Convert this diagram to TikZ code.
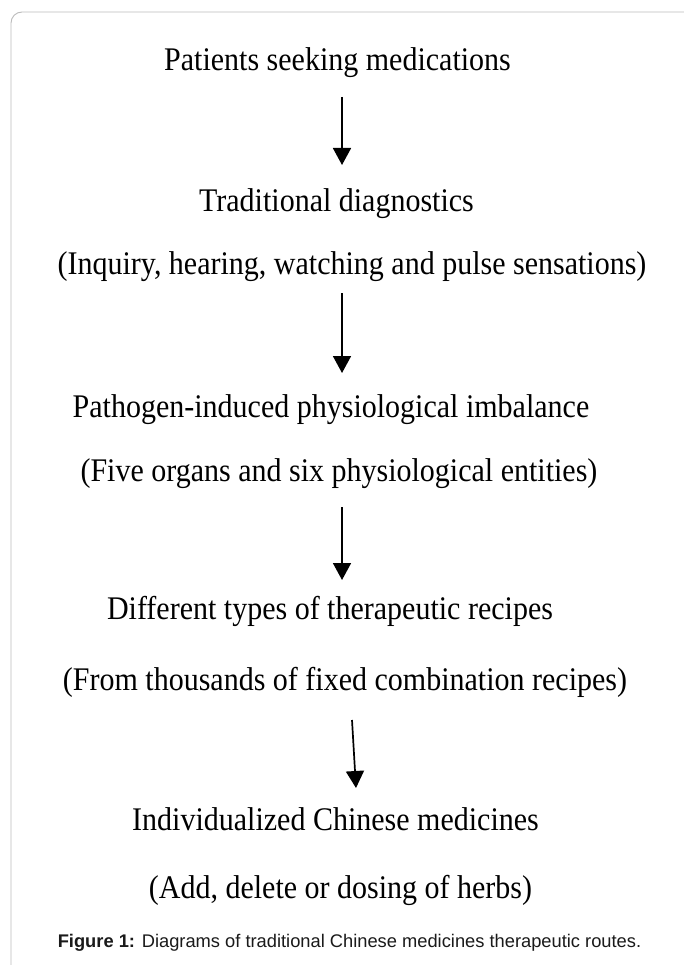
\documentclass[tikz,border=0pt]{standalone}
\usepackage{fontspec}
\setmainfont{Liberation Serif}
\newfontfamily\capfont{Liberation Sans}
\usetikzlibrary{arrows.meta}
\definecolor{framegray}{HTML}{BBBBBB}
\definecolor{captext}{HTML}{1A1A1A}
\newcommand{\tallt}[1]{\scalebox{1}[1.1]{#1}}
\tikzset{
  txt/.style={anchor=base, inner sep=0pt, font=\fontsize{30}{36}\selectfont, text=black},
  captxt/.style={anchor=base, inner sep=0pt, font=\capfont\fontsize{18.3}{22}\selectfont, text=captext},
  flowarrow/.style={line width=1.7pt, -{Triangle[length=17pt,width=18pt]}},
  frame/.style={draw=framegray, line width=0.9pt, rounded corners=11pt}
}
\begin{document}
\begin{tikzpicture}[x=1pt,y=-1pt]
\useasboundingbox (0,0) rectangle (683,965);
\fill[white] (0,0) rectangle (683,965);
\draw[frame] (11,980) -- (11,12) -- (700,12);

\node[txt] (n1) at (337.5,71) {\tallt{Patients seeking medications}};
\node[txt] (n2) at (336.5,212) {\tallt{Traditional diagnostics}};
\node[txt] (n3) at (352,275) {\tallt{(Inquiry, hearing, watching and pulse sensations)}};
\node[txt] (n4) at (331,417) {\tallt{Pathogen-induced physiological imbalance}};
\node[txt] (n5) at (339,481) {\tallt{(Five organs and six physiological entities)}};
\node[txt] (n6) at (330,619) {\tallt{Different types of therapeutic recipes}};
\node[txt] (n7) at (345,690) {\tallt{(From thousands of fixed combination recipes)}};
\node[txt] (n8) at (335.5,830) {\tallt{Individualized Chinese medicines}};
\node[txt] (n9) at (340.5,898) {\tallt{(Add, delete or dosing of herbs)}};
\node[captxt] (cap) at (349.5,947) {\textbf{Figure 1:} Diagrams of traditional Chinese medicines therapeutic routes.};

\coordinate (a1s) at (342,97);  \coordinate (a1e) at (342,165);
\coordinate (a2s) at (342,293); \coordinate (a2e) at (342,373);
\coordinate (a3s) at (342,507); \coordinate (a3e) at (342,580);
\coordinate (a4s) at (352,720); \coordinate (a4e) at (356,788);

\draw[flowarrow] (a1s) -- (a1e);
\draw[flowarrow] (a2s) -- (a2e);
\draw[flowarrow] (a3s) -- (a3e);
\draw[flowarrow] (a4s) -- (a4e);
\end{tikzpicture}
\end{document}
